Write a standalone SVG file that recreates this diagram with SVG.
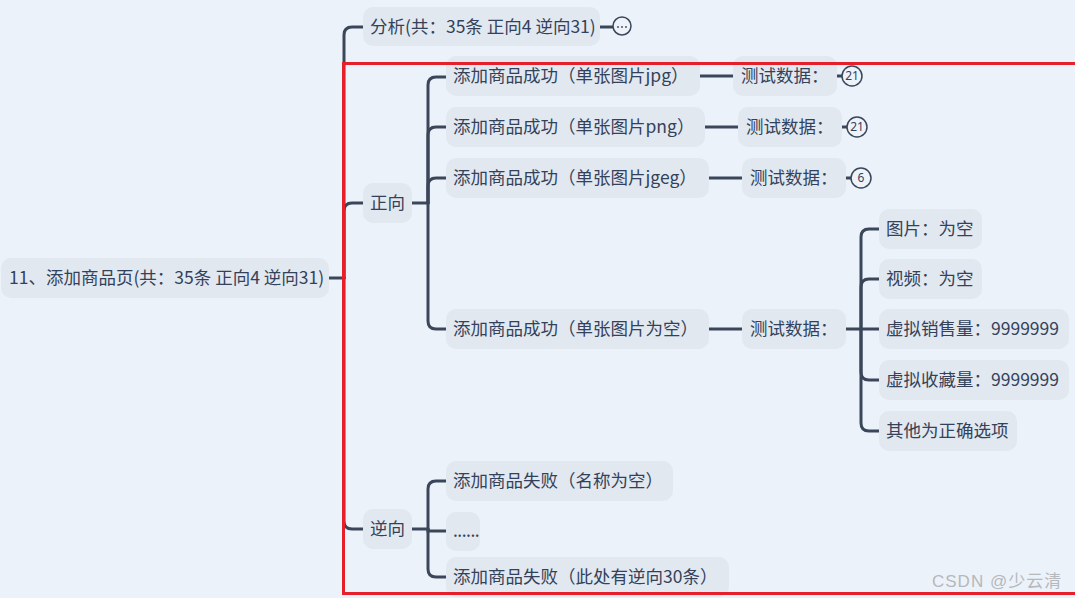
<svg xmlns="http://www.w3.org/2000/svg" width="1075" height="598" viewBox="0 0 1075 598">
<style>
.bg{fill:#ECF2F9}
.n{fill:#E2E8F0}
.t{font-family:"Noto Sans CJK SC","Noto Sans",sans-serif;font-size:17.5px;fill:#33425A}
.c path{fill:none;stroke:#3A4659;stroke-width:3;stroke-linecap:round}
.badge{fill:#EEF3FA;stroke:#3A4659;stroke-width:1.5}
.bt{font-family:"Noto Sans","Liberation Sans",sans-serif;font-size:12px;fill:#33425A;text-anchor:middle}
</style>
<rect class="bg" x="0" y="0" width="1075" height="598"/>
<g id="connectors" class="c">
<path d="M329 278 H344"/>
<path d="M344 278 V35 Q344 27 352 27 H363"/>
<path d="M344 278 V211 Q344 203 352 203 H363"/>
<path d="M344 278 V521 Q344 529 352 529 H363"/>
<path d="M600 27 H613"/>
<path d="M412 203 H428"/>
<path d="M428 203 V85 Q428 77 436 77 H446"/>
<path d="M428 203 V135 Q428 127 436 127 H446"/>
<path d="M428 203 V186 Q428 178 436 178 H446"/>
<path d="M428 203 V321 Q428 329 436 329 H446"/>
<path d="M700 76 H733"/>
<path d="M705 127 H738"/>
<path d="M709 178 H742"/>
<path d="M709 329 H742"/>
<path d="M837 76 H842"/>
<path d="M842 127 H847"/>
<path d="M846 178 H851"/>
<path d="M846 329 H861"/>
<path d="M861 329 V237 Q861 229 869 229 H879"/>
<path d="M861 329 V287 Q861 279 869 279 H879"/>
<path d="M861 329 H879"/>
<path d="M861 329 V372 Q861 380 869 380 H879"/>
<path d="M861 329 V423 Q861 431 869 431 H879"/>
<path d="M412 529 H428"/>
<path d="M428 529 V489 Q428 481 436 481 H446"/>
<path d="M428 529 V531 H446"/>
<path d="M428 529 V569 Q428 577 436 577 H446"/>
</g>
<g id="root"><rect class="n" x="1" y="258" width="328" height="40" rx="10"/><text class="t" x="9" y="284">11、添加商品页(共：35条 正向4 逆向31)</text></g>
<g id="analysis"><rect class="n" x="363" y="7" width="237" height="39" rx="10"/><text class="t" x="370" y="33">分析(共：35条 正向4 逆向31)</text>
<circle class="badge" cx="622" cy="26" r="9"/><circle cx="618" cy="27" r="0.9" fill="#3A4659"/><circle cx="622" cy="27" r="0.9" fill="#3A4659"/><circle cx="626" cy="27" r="0.9" fill="#3A4659"/></g>
<g id="zheng"><rect class="n" x="363" y="183" width="49" height="40" rx="10"/><text class="t" x="370" y="209">正向</text></g>
<g id="ni"><rect class="n" x="363" y="509" width="49" height="40" rx="10"/><text class="t" x="370" y="535">逆向</text></g>
<g id="s1"><rect class="n" x="446" y="56" width="254" height="40" rx="10"/><text class="t" x="453" y="82">添加商品成功（单张图片jpg）</text></g>
<g id="s2"><rect class="n" x="446" y="107" width="259" height="40" rx="10"/><text class="t" x="453" y="133">添加商品成功（单张图片png）</text></g>
<g id="s3"><rect class="n" x="446" y="158" width="263" height="40" rx="10"/><text class="t" x="453" y="184">添加商品成功（单张图片jgeg）</text></g>
<g id="s4"><rect class="n" x="446" y="309" width="263" height="40" rx="10"/><text class="t" x="453" y="335">添加商品成功（单张图片为空）</text></g>
<g id="d1"><rect class="n" x="733" y="56" width="104" height="40" rx="10"/><text class="t" x="741" y="82">测试数据：</text><circle class="badge" cx="852" cy="76" r="10"/><text class="bt" x="852" y="80">21</text></g>
<g id="d2"><rect class="n" x="738" y="107" width="104" height="40" rx="10"/><text class="t" x="746" y="133">测试数据：</text><circle class="badge" cx="857" cy="127" r="10"/><text class="bt" x="857" y="131">21</text></g>
<g id="d3"><rect class="n" x="742" y="158" width="104" height="40" rx="10"/><text class="t" x="750" y="184">测试数据：</text><circle class="badge" cx="861" cy="178" r="10"/><text class="bt" x="861" y="182">6</text></g>
<g id="d4"><rect class="n" x="742" y="309" width="104" height="40" rx="10"/><text class="t" x="750" y="335">测试数据：</text></g>
<g id="e1"><rect class="n" x="879" y="209" width="103" height="40" rx="10"/><text class="t" x="886" y="235">图片：为空</text></g>
<g id="e2"><rect class="n" x="879" y="259" width="103" height="40" rx="10"/><text class="t" x="886" y="285">视频：为空</text></g>
<g id="e3"><rect class="n" x="879" y="309" width="190" height="40" rx="10"/><text class="t" x="886" y="335">虚拟销售量：9999999</text></g>
<g id="e4"><rect class="n" x="879" y="360" width="190" height="40" rx="10"/><text class="t" x="886" y="386">虚拟收藏量：9999999</text></g>
<g id="e5"><rect class="n" x="879" y="411" width="138" height="40" rx="10"/><text class="t" x="886" y="437">其他为正确选项</text></g>
<g id="f1"><rect class="n" x="446" y="461" width="227" height="40" rx="10"/><text class="t" x="453" y="487">添加商品失败（名称为空）</text></g>
<g id="f2"><rect class="n" x="446" y="512" width="34" height="39" rx="10"/><text class="t" x="453" y="537" font-size="12" letter-spacing="-0.5">......</text></g>
<g id="f3"><rect class="n" x="446" y="557" width="283" height="40" rx="10"/><text class="t" x="453" y="583">添加商品失败（此处有逆向30条）</text></g>
<rect x="343.5" y="63.5" width="1026" height="530" fill="none" stroke="#E5202A" stroke-width="3"/>
<text x="932" y="587" font-family="'Liberation Sans','Noto Sans CJK SC',sans-serif" font-size="17" letter-spacing="1" fill="#B5B8BC">CSDN @少云清</text>
</svg>
